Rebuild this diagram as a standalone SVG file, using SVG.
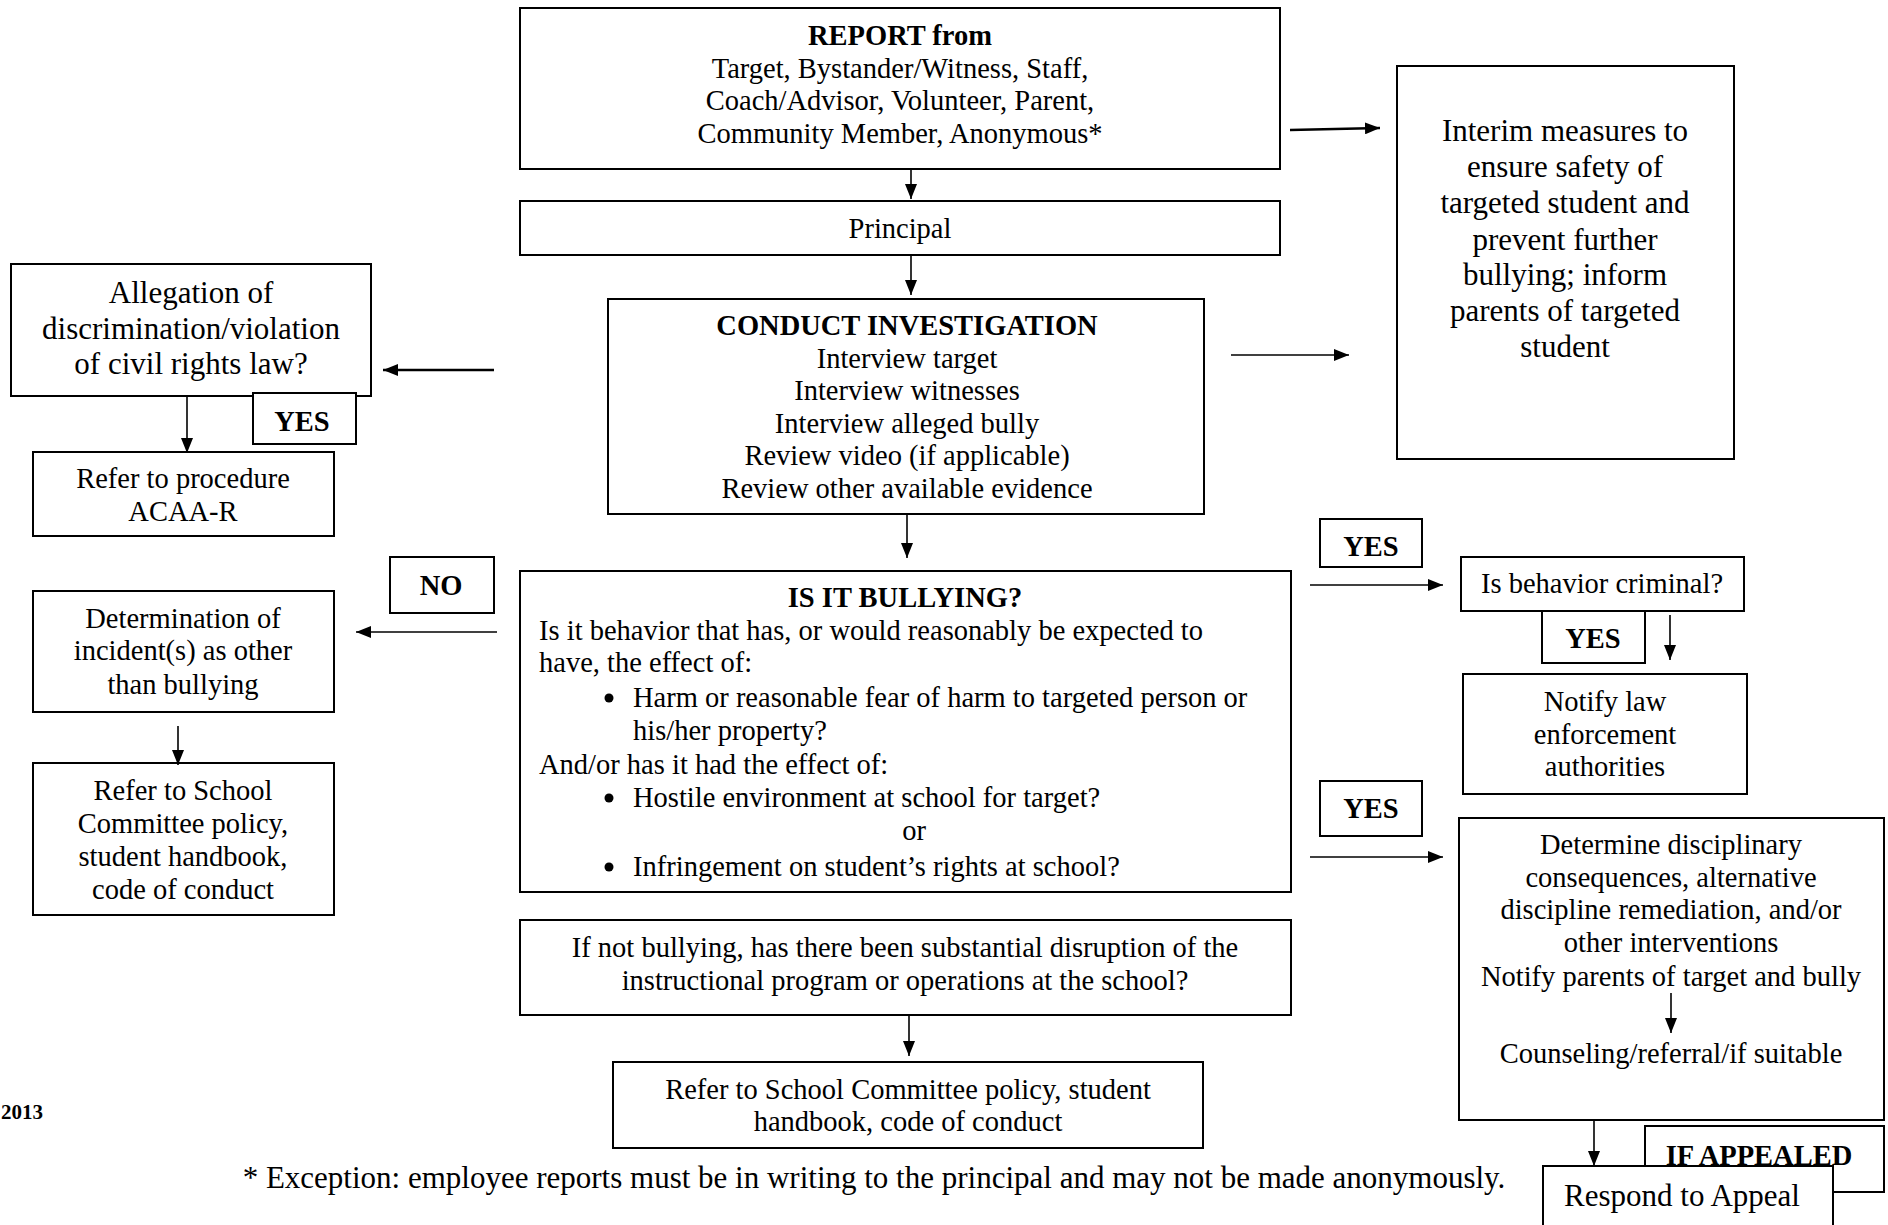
<svg xmlns="http://www.w3.org/2000/svg" width="1888" height="1225" viewBox="0 0 1888 1225">
<style>
.box{fill:#fff;stroke:#000;stroke-width:2}
.t{font-family:"Liberation Serif","Times New Roman",serif;font-size:28.5px;fill:#000}
.c{text-anchor:middle}
.b{font-weight:bold}
.big{font-size:31px}
.ln{stroke:#000;stroke-width:1.6;fill:none}
.lnb{stroke:#000;stroke-width:2.6;fill:none}
</style>
<defs>
<marker id="ahl" viewBox="0 0 10 10" refX="10" refY="5" markerWidth="15" markerHeight="12" markerUnits="userSpaceOnUse" orient="auto" preserveAspectRatio="none"><path d="M0,0 L10,5 L0,10 z" fill="#000"/></marker>
</defs>

<g id="report">
<rect class="box" x="520" y="8" width="760" height="161"/>
<text class="t c b" x="900" y="45">REPORT from</text>
<text class="t c" x="900" y="78">Target, Bystander/Witness, Staff,</text>
<text class="t c" x="900" y="110">Coach/Advisor, Volunteer, Parent,</text>
<text class="t c" x="900" y="143">Community Member, Anonymous*</text>
</g>

<g id="principal">
<rect class="box" x="520" y="201" width="760" height="54"/>
<text class="t c" x="900" y="238">Principal</text>
</g>

<g id="conduct">
<rect class="box" x="608" y="299" width="596" height="215"/>
<text class="t c b" x="907" y="335">CONDUCT INVESTIGATION</text>
<text class="t c" x="907" y="368">Interview target</text>
<text class="t c" x="907" y="400">Interview witnesses</text>
<text class="t c" x="907" y="433">Interview alleged bully</text>
<text class="t c" x="907" y="465">Review video (if applicable)</text>
<text class="t c" x="907" y="498">Review other available evidence</text>
</g>

<g id="interim">
<rect class="box" x="1397" y="66" width="337" height="393"/>
<text class="t c big" x="1565" y="141">Interim measures to</text>
<text class="t c big" x="1565" y="177">ensure safety of</text>
<text class="t c big" x="1565" y="213">targeted student and</text>
<text class="t c big" x="1565" y="250">prevent further</text>
<text class="t c big" x="1565" y="285">bullying; inform</text>
<text class="t c big" x="1565" y="321">parents of targeted</text>
<text class="t c big" x="1565" y="357">student</text>
</g>

<g id="allegation">
<rect class="box" x="11" y="264" width="360" height="132"/>
<text class="t c big" x="191" y="303">Allegation of</text>
<text class="t c big" x="191" y="339">discrimination/violation</text>
<text class="t c big" x="191" y="374">of civil rights law?</text>
</g>

<g id="yes-allegation">
<rect class="box" x="253" y="393" width="103" height="51"/>
<text class="t c b" x="302" y="431">YES</text>
</g>

<g id="refer-procedure">
<rect class="box" x="33" y="452" width="301" height="84"/>
<text class="t c" x="183" y="488">Refer to procedure</text>
<text class="t c" x="183" y="521">ACAA-R</text>
</g>

<g id="no-label">
<rect class="box" x="390" y="557" width="104" height="56"/>
<text class="t c b" x="441" y="595">NO</text>
</g>

<g id="determination">
<rect class="box" x="33" y="591" width="301" height="121"/>
<text class="t c" x="183" y="628">Determination of</text>
<text class="t c" x="183" y="660">incident(s) as other</text>
<text class="t c" x="183" y="694">than bullying</text>
</g>

<g id="refer-school-left">
<rect class="box" x="33" y="763" width="301" height="152"/>
<text class="t c" x="183" y="800">Refer to School</text>
<text class="t c" x="183" y="833">Committee policy,</text>
<text class="t c" x="183" y="866">student handbook,</text>
<text class="t c" x="183" y="899">code of conduct</text>
</g>

<g id="is-it-bullying">
<rect class="box" x="520" y="571" width="771" height="321"/>
<text class="t c b" x="905" y="607">IS IT BULLYING?</text>
<text class="t" x="539" y="640">Is it behavior that has, or would reasonably be expected to</text>
<text class="t" x="539" y="672">have, the effect of:</text>
<circle cx="609" cy="698" r="4.5" fill="#000"/>
<text class="t" x="633" y="707">Harm or reasonable fear of harm to targeted person or</text>
<text class="t" x="633" y="740">his/her property?</text>
<text class="t" x="539" y="774">And/or has it had the effect of:</text>
<circle cx="609" cy="798" r="4.5" fill="#000"/>
<text class="t" x="633" y="807">Hostile environment at school for target?</text>
<text class="t c" x="914" y="840">or</text>
<circle cx="609" cy="867" r="4.5" fill="#000"/>
<text class="t" x="633" y="876">Infringement on student’s rights at school?</text>
</g>

<g id="if-not-bullying">
<rect class="box" x="520" y="920" width="771" height="95"/>
<text class="t c" x="905" y="957">If not bullying, has there been substantial disruption of the</text>
<text class="t c" x="905" y="990">instructional program or operations at the school?</text>
</g>

<g id="refer-school-bottom">
<rect class="box" x="613" y="1062" width="590" height="86"/>
<text class="t c" x="908" y="1099">Refer to School Committee policy, student</text>
<text class="t c" x="908" y="1131">handbook, code of conduct</text>
</g>

<g id="footnote">
<text class="t c big" x="874" y="1188">* Exception: employee reports must be in writing to the principal and may not be made anonymously.</text>
</g>

<g id="year">
<text class="t b" x="43" y="1119" text-anchor="end" style="font-size:21px">2013</text>
</g>

<g id="yes-criminal">
<rect class="box" x="1320" y="519" width="102" height="48"/>
<text class="t c b" x="1371" y="556">YES</text>
</g>

<g id="criminal">
<rect class="box" x="1461" y="557" width="283" height="54"/>
<text class="t c" x="1602" y="593">Is behavior criminal?</text>
</g>

<g id="yes-law">
<rect class="box" x="1542" y="611" width="103" height="52"/>
<text class="t c b" x="1593" y="648">YES</text>
</g>

<g id="notify-law">
<rect class="box" x="1463" y="674" width="284" height="120"/>
<text class="t c" x="1605" y="711">Notify law</text>
<text class="t c" x="1605" y="744">enforcement</text>
<text class="t c" x="1605" y="776">authorities</text>
</g>

<g id="yes-discipline">
<rect class="box" x="1320" y="781" width="102" height="55"/>
<text class="t c b" x="1371" y="818">YES</text>
</g>

<g id="discipline">
<rect class="box" x="1459" y="818" width="425" height="302"/>
<text class="t c" x="1671" y="854">Determine disciplinary</text>
<text class="t c" x="1671" y="887">consequences, alternative</text>
<text class="t c" x="1671" y="919">discipline remediation, and/or</text>
<text class="t c" x="1671" y="952">other interventions</text>
<text class="t c" x="1671" y="986">Notify parents of target and bully</text>
<text class="t c" x="1671" y="1063">Counseling/referral/if suitable</text>
</g>

<g id="if-appealed">
<rect class="box" x="1645" y="1126" width="239" height="66"/>
<text class="t c b" x="1759" y="1165">IF APPEALED</text>
</g>

<g id="respond">
<rect class="box" x="1543" y="1166" width="290" height="70"/>
<text class="t c big" x="1682" y="1206">Respond to Appeal</text>
</g>

<g id="connectors">
<line class="ln" x1="911" y1="170" x2="911" y2="199" marker-end="url(#ahl)"/>
<line class="ln" x1="911" y1="256" x2="911" y2="295" marker-end="url(#ahl)"/>
<line class="lnb" x1="1290" y1="130" x2="1380" y2="128" marker-end="url(#ahl)"/>
<line class="ln" x1="1231" y1="355" x2="1349" y2="355" marker-end="url(#ahl)"/>
<line class="lnb" x1="494" y1="370" x2="383" y2="370" marker-end="url(#ahl)"/>
<line class="ln" x1="187" y1="397" x2="187" y2="453" marker-end="url(#ahl)"/>
<line class="ln" x1="907" y1="515" x2="907" y2="558" marker-end="url(#ahl)"/>
<line class="ln" x1="497" y1="632" x2="356" y2="632" marker-end="url(#ahl)"/>
<line class="ln" x1="178" y1="726" x2="178" y2="765" marker-end="url(#ahl)"/>
<line class="ln" x1="909" y1="1016" x2="909" y2="1056" marker-end="url(#ahl)"/>
<line class="ln" x1="1310" y1="585" x2="1443" y2="585" marker-end="url(#ahl)"/>
<line class="ln" x1="1670" y1="615" x2="1670" y2="660" marker-end="url(#ahl)"/>
<line class="ln" x1="1310" y1="857" x2="1443" y2="857" marker-end="url(#ahl)"/>
<line class="ln" x1="1671" y1="993" x2="1671" y2="1033" marker-end="url(#ahl)"/>
<line class="ln" x1="1594" y1="1121" x2="1594" y2="1166" marker-end="url(#ahl)"/>
</g>
</svg>
